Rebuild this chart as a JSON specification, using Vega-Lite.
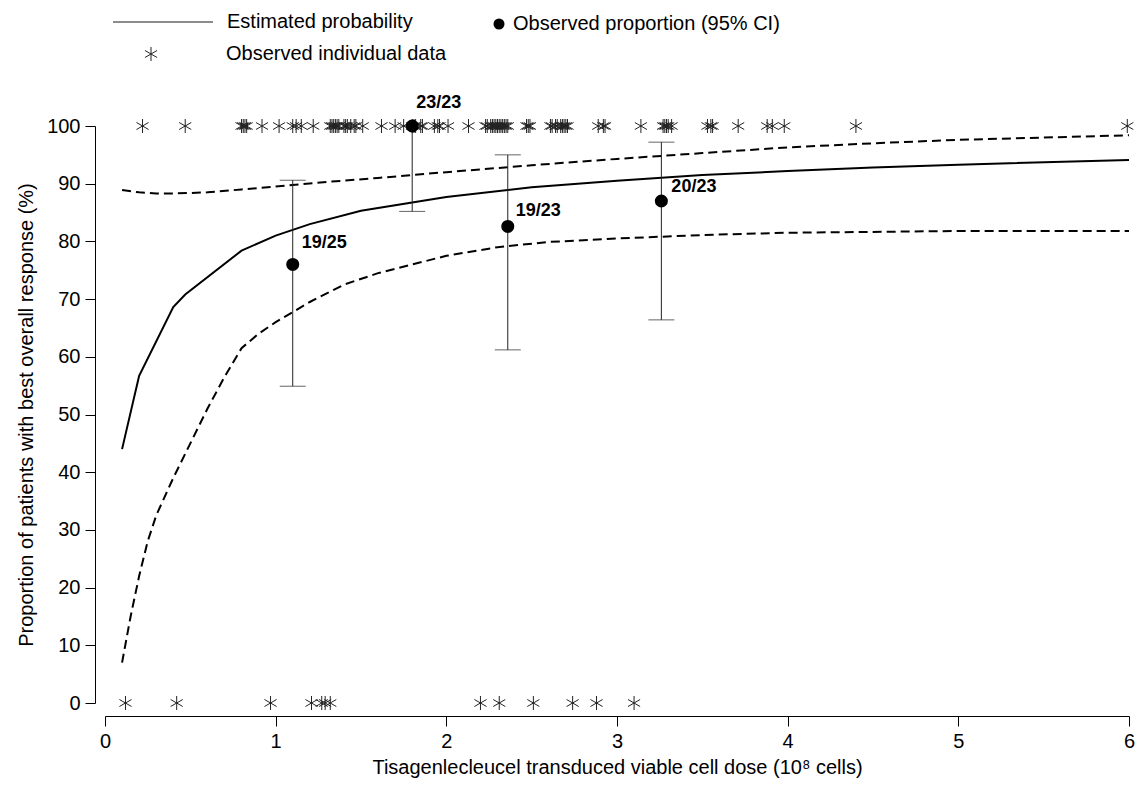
{
  "$schema": "https://vega.github.io/schema/vega-lite/v6.json",
  "autosize": "none",
  "width": 1024,
  "height": 577,
  "padding": {"left": 105, "top": 126, "right": 9, "bottom": 82},
  "background": "white",
  "config": {
    "view": {"stroke": null},
    "font": "Liberation Sans",
    "axis": {
      "domainColor": "black", "domainWidth": 1, "tickColor": "black", "tickWidth": 1,
      "labelColor": "black", "labelFont": "Liberation Sans", "labelFontSize": 20,
      "titleColor": "black", "titleFont": "Liberation Sans", "titleFontSize": 20, "titleFontWeight": "normal",
      "grid": false
    },
    "legend": {
      "labelFont": "Liberation Sans", "labelFontSize": 20, "labelColor": "black", "labelLimit": 600,
      "padding": 0, "title": null
    }
  },
  "datasets": {
    "curve": [
      {"s": "est", "d": 0.1, "p": 44.0}, {"s": "est", "d": 0.2, "p": 56.7}, {"s": "est", "d": 0.4, "p": 68.6},
      {"s": "est", "d": 0.47, "p": 70.8}, {"s": "est", "d": 0.8, "p": 78.4}, {"s": "est", "d": 1.0, "p": 81.0},
      {"s": "est", "d": 1.2, "p": 83.0}, {"s": "est", "d": 1.5, "p": 85.3}, {"s": "est", "d": 2.0, "p": 87.7},
      {"s": "est", "d": 2.5, "p": 89.4}, {"s": "est", "d": 3.0, "p": 90.5}, {"s": "est", "d": 3.5, "p": 91.5},
      {"s": "est", "d": 4.0, "p": 92.2}, {"s": "est", "d": 4.5, "p": 92.8}, {"s": "est", "d": 5.0, "p": 93.3},
      {"s": "est", "d": 6.0, "p": 94.1},
      {"s": "lo", "d": 0.1, "p": 7.0}, {"s": "lo", "d": 0.15, "p": 15.0}, {"s": "lo", "d": 0.2, "p": 22.0},
      {"s": "lo", "d": 0.25, "p": 28.0}, {"s": "lo", "d": 0.3, "p": 32.5}, {"s": "lo", "d": 0.4, "p": 39.0},
      {"s": "lo", "d": 0.5, "p": 45.0}, {"s": "lo", "d": 0.6, "p": 51.0}, {"s": "lo", "d": 0.7, "p": 56.5},
      {"s": "lo", "d": 0.8, "p": 61.5}, {"s": "lo", "d": 0.9, "p": 64.0}, {"s": "lo", "d": 1.0, "p": 66.0},
      {"s": "lo", "d": 1.2, "p": 69.5}, {"s": "lo", "d": 1.4, "p": 72.5}, {"s": "lo", "d": 1.6, "p": 74.5},
      {"s": "lo", "d": 1.8, "p": 76.0}, {"s": "lo", "d": 2.0, "p": 77.5}, {"s": "lo", "d": 2.3, "p": 79.0},
      {"s": "lo", "d": 2.6, "p": 79.9}, {"s": "lo", "d": 3.0, "p": 80.5}, {"s": "lo", "d": 3.5, "p": 81.1},
      {"s": "lo", "d": 4.0, "p": 81.5}, {"s": "lo", "d": 5.0, "p": 81.8}, {"s": "lo", "d": 6.0, "p": 81.8},
      {"s": "hi", "d": 0.1, "p": 88.9}, {"s": "hi", "d": 0.2, "p": 88.5}, {"s": "hi", "d": 0.3, "p": 88.3},
      {"s": "hi", "d": 0.4, "p": 88.3}, {"s": "hi", "d": 0.6, "p": 88.5}, {"s": "hi", "d": 0.8, "p": 89.0},
      {"s": "hi", "d": 1.0, "p": 89.5}, {"s": "hi", "d": 1.3, "p": 90.3}, {"s": "hi", "d": 1.6, "p": 91.0},
      {"s": "hi", "d": 2.0, "p": 92.0}, {"s": "hi", "d": 2.5, "p": 93.2}, {"s": "hi", "d": 3.0, "p": 94.3},
      {"s": "hi", "d": 3.5, "p": 95.3}, {"s": "hi", "d": 4.0, "p": 96.3}, {"s": "hi", "d": 4.5, "p": 97.0},
      {"s": "hi", "d": 5.0, "p": 97.6}, {"s": "hi", "d": 6.0, "p": 98.4}
    ],
    "obs": [
      {"d": 1.1, "p": 76.0, "lo": 54.9, "hi": 90.6, "label": "19/25"},
      {"d": 1.8, "p": 100.0, "lo": 85.2, "hi": 100.0, "label": "23/23"},
      {"d": 2.36, "p": 82.6, "lo": 61.2, "hi": 95.0, "label": "19/23"},
      {"d": 3.26, "p": 87.0, "lo": 66.4, "hi": 97.2, "label": "20/23"}
    ],
    "indiv": [
      {"d": 0.22, "r": 100}, {"d": 0.47, "r": 100}, {"d": 0.80, "r": 100}, {"d": 0.81, "r": 100}, {"d": 0.82, "r": 100},
      {"d": 0.83, "r": 100}, {"d": 0.92, "r": 100}, {"d": 1.02, "r": 100}, {"d": 1.10, "r": 100}, {"d": 1.12, "r": 100},
      {"d": 1.15, "r": 100}, {"d": 1.22, "r": 100}, {"d": 1.32, "r": 100}, {"d": 1.33, "r": 100}, {"d": 1.34, "r": 100},
      {"d": 1.35, "r": 100}, {"d": 1.36, "r": 100}, {"d": 1.37, "r": 100}, {"d": 1.40, "r": 100}, {"d": 1.41, "r": 100},
      {"d": 1.42, "r": 100}, {"d": 1.44, "r": 100}, {"d": 1.46, "r": 100}, {"d": 1.47, "r": 100}, {"d": 1.51, "r": 100},
      {"d": 1.62, "r": 100}, {"d": 1.70, "r": 100}, {"d": 1.75, "r": 100}, {"d": 1.80, "r": 100}, {"d": 1.81, "r": 100},
      {"d": 1.82, "r": 100}, {"d": 1.85, "r": 100}, {"d": 1.86, "r": 100}, {"d": 1.93, "r": 100}, {"d": 1.95, "r": 100},
      {"d": 1.96, "r": 100}, {"d": 2.01, "r": 100}, {"d": 2.13, "r": 100}, {"d": 2.23, "r": 100}, {"d": 2.24, "r": 100},
      {"d": 2.26, "r": 100}, {"d": 2.27, "r": 100}, {"d": 2.28, "r": 100}, {"d": 2.29, "r": 100}, {"d": 2.30, "r": 100},
      {"d": 2.31, "r": 100}, {"d": 2.32, "r": 100}, {"d": 2.33, "r": 100}, {"d": 2.34, "r": 100}, {"d": 2.35, "r": 100},
      {"d": 2.36, "r": 100}, {"d": 2.47, "r": 100}, {"d": 2.48, "r": 100}, {"d": 2.49, "r": 100}, {"d": 2.61, "r": 100},
      {"d": 2.62, "r": 100}, {"d": 2.64, "r": 100}, {"d": 2.65, "r": 100}, {"d": 2.67, "r": 100}, {"d": 2.68, "r": 100},
      {"d": 2.69, "r": 100}, {"d": 2.70, "r": 100}, {"d": 2.71, "r": 100}, {"d": 2.89, "r": 100}, {"d": 2.92, "r": 100},
      {"d": 2.93, "r": 100}, {"d": 3.14, "r": 100}, {"d": 3.27, "r": 100}, {"d": 3.28, "r": 100}, {"d": 3.29, "r": 100},
      {"d": 3.30, "r": 100}, {"d": 3.32, "r": 100}, {"d": 3.53, "r": 100}, {"d": 3.55, "r": 100}, {"d": 3.56, "r": 100},
      {"d": 3.71, "r": 100}, {"d": 3.88, "r": 100}, {"d": 3.91, "r": 100}, {"d": 3.98, "r": 100}, {"d": 4.40, "r": 100},
      {"d": 5.99, "r": 100},
      {"d": 0.12, "r": 0}, {"d": 0.42, "r": 0}, {"d": 0.97, "r": 0}, {"d": 1.21, "r": 0}, {"d": 1.27, "r": 0},
      {"d": 1.29, "r": 0}, {"d": 1.32, "r": 0}, {"d": 2.20, "r": 0}, {"d": 2.31, "r": 0}, {"d": 2.51, "r": 0},
      {"d": 2.74, "r": 0}, {"d": 2.88, "r": 0}, {"d": 3.10, "r": 0}
    ]
  },
  "encoding": {
    "x": {
      "type": "quantitative",
      "scale": {"domain": [0, 6], "nice": false, "zero": false},
      "axis": {
        "title": "Tisagenlecleucel transduced viable cell dose (10⁸ cells)",
        "values": [0, 1, 2, 3, 4, 5, 6], "offset": 13, "tickSize": 10, "labelPadding": 5, "titlePadding": 6,
        "labelFlush": false
      }
    },
    "y": {
      "type": "quantitative",
      "scale": {"domain": [0, 100], "nice": false},
      "axis": {
        "title": "Proportion of patients with best overall response (%)",
        "values": [0, 10, 20, 30, 40, 50, 60, 70, 80, 90, 100], "offset": 10, "tickSize": 10, "labelPadding": 5,
        "titlePadding": 10, "labelFlush": false
      }
    }
  },
  "layer": [
    {
      "data": {"name": "curve"},
      "transform": [{"filter": "datum.s === 'lo'"}],
      "mark": {"type": "line", "color": "black", "strokeWidth": 2, "strokeDash": [9, 5]},
      "encoding": {"x": {"field": "d", "type": "quantitative"}, "y": {"field": "p", "type": "quantitative"}}
    },
    {
      "data": {"name": "curve"},
      "transform": [{"filter": "datum.s === 'hi'"}],
      "mark": {"type": "line", "color": "black", "strokeWidth": 2, "strokeDash": [9, 5]},
      "encoding": {"x": {"field": "d", "type": "quantitative"}, "y": {"field": "p", "type": "quantitative"}}
    },
    {
      "data": {"name": "curve"},
      "transform": [{"filter": "datum.s === 'est'"}],
      "mark": {"type": "line", "strokeWidth": 2},
      "encoding": {
        "x": {"field": "d", "type": "quantitative"},
        "y": {"field": "p", "type": "quantitative"},
        "color": {
          "datum": "Estimated probability",
          "scale": {"range": ["black"]},
          "legend": {
            "orient": "none", "legendX": 7, "legendY": -155,
            "symbolType": "stroke", "symbolSize": 10000, "symbolStrokeWidth": 1.5, "symbolOpacity": 0.6,
            "labelOffset": 13
          }
        }
      }
    },
    {
      "data": {"name": "obs"},
      "mark": {"type": "rule", "color": "#222", "strokeWidth": 1},
      "encoding": {"x": {"field": "d", "type": "quantitative"}, "y": {"field": "lo", "type": "quantitative"}, "y2": {"field": "hi"}}
    },
    {
      "data": {"name": "obs"},
      "mark": {"type": "tick", "orient": "horizontal", "color": "#222", "size": 26, "thickness": 1},
      "encoding": {"x": {"field": "d", "type": "quantitative"}, "y": {"field": "lo", "type": "quantitative"}}
    },
    {
      "data": {"name": "obs"},
      "mark": {"type": "tick", "orient": "horizontal", "color": "#222", "size": 26, "thickness": 1},
      "encoding": {"x": {"field": "d", "type": "quantitative"}, "y": {"field": "hi", "type": "quantitative"}}
    },
    {
      "data": {"name": "indiv"},
      "mark": {
        "type": "point", "filled": false, "strokeWidth": 1, "size": 196, "opacity": 1,
        "shape": "M0,-1L0,1M-0.866,-0.5L0.866,0.5M-0.866,0.5L0.866,-0.5"
      },
      "encoding": {
        "x": {"field": "d", "type": "quantitative"},
        "y": {"field": "r", "type": "quantitative"},
        "color": {
          "datum": "Observed individual data",
          "scale": {"range": ["#222"]},
          "legend": {
            "orient": "none", "legendX": 36, "legendY": -82,
            "symbolType": "M0,-1L0,1M-0.866,-0.5L0.866,0.5M-0.866,0.5L0.866,-0.5",
            "symbolSize": 196, "symbolStrokeWidth": 1, "symbolFillColor": "transparent",
            "labelOffset": 65
          }
        }
      }
    },
    {
      "data": {"name": "obs"},
      "mark": {"type": "point", "filled": true, "size": 170, "opacity": 1},
      "encoding": {
        "x": {"field": "d", "type": "quantitative"},
        "y": {"field": "p", "type": "quantitative"},
        "color": {
          "datum": "Observed proportion (95% CI)",
          "scale": {"range": ["black"]},
          "legend": {
            "orient": "none", "legendX": 384, "legendY": -112,
            "symbolType": "circle", "symbolSize": 121, "labelOffset": 4
          }
        }
      }
    },
    {
      "data": {"name": "obs"},
      "transform": [{"filter": "datum.label === '19/25'"}],
      "mark": {"type": "text", "align": "left", "baseline": "middle", "dx": 9, "dy": -21, "fontSize": 18, "fontWeight": "bold", "font": "Liberation Sans", "color": "black"},
      "encoding": {"x": {"field": "d", "type": "quantitative"}, "y": {"field": "p", "type": "quantitative"}, "text": {"field": "label"}}
    },
    {
      "data": {"name": "obs"},
      "transform": [{"filter": "datum.label === '23/23'"}],
      "mark": {"type": "text", "align": "left", "baseline": "middle", "dx": 4, "dy": -23, "fontSize": 18, "fontWeight": "bold", "font": "Liberation Sans", "color": "black"},
      "encoding": {"x": {"field": "d", "type": "quantitative"}, "y": {"field": "p", "type": "quantitative"}, "text": {"field": "label"}}
    },
    {
      "data": {"name": "obs"},
      "transform": [{"filter": "datum.label === '19/23'"}],
      "mark": {"type": "text", "align": "left", "baseline": "middle", "dx": 8, "dy": -15, "fontSize": 18, "fontWeight": "bold", "font": "Liberation Sans", "color": "black"},
      "encoding": {"x": {"field": "d", "type": "quantitative"}, "y": {"field": "p", "type": "quantitative"}, "text": {"field": "label"}}
    },
    {
      "data": {"name": "obs"},
      "transform": [{"filter": "datum.label === '20/23'"}],
      "mark": {"type": "text", "align": "left", "baseline": "middle", "dx": 10, "dy": -14, "fontSize": 18, "fontWeight": "bold", "font": "Liberation Sans", "color": "black"},
      "encoding": {"x": {"field": "d", "type": "quantitative"}, "y": {"field": "p", "type": "quantitative"}, "text": {"field": "label"}}
    }
  ],
  "resolve": {"scale": {"color": "independent"}}
}
